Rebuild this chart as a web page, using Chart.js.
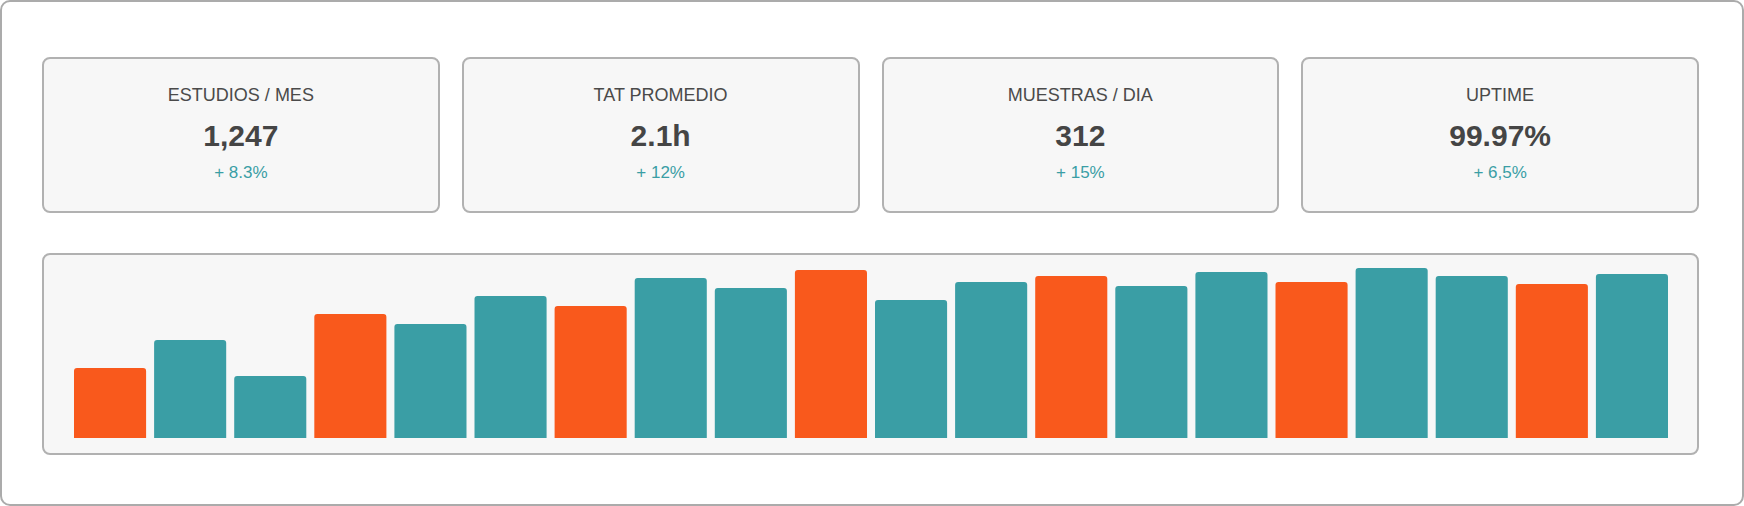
<!DOCTYPE html>
<html lang="es">
<head>
  <meta charset="UTF-8">
  <title>Panel de laboratorio</title>
  <style>
    html, body {
      margin: 0;
      padding: 0;
      background: #fff;
      font-family: "Liberation Sans", Arial, Helvetica, sans-serif;
    }
    .frame {
      position: absolute;
      left: 0;
      top: 0;
      width: 1744px;
      height: 506px;
      box-sizing: border-box;
      border: 2px solid #ababab;
      border-radius: 10px;
      background: #fff;
    }
    /* children sit inside the 2px frame border */
    .kpis {
      position: absolute;
      left: 40px;
      top: 55px;
      width: 1657px;
      height: 156px;
      display: flex;
      gap: 22px;
    }
    .kpi {
      flex: 1;
      box-sizing: border-box;
      border: 2px solid #b1b1b1;
      border-radius: 8px;
      background: #f7f7f7;
      text-align: center;
      padding-top: 26px;
    }
    .kpi h4 {
      margin: 0;
      font-size: 18px;
      line-height: 20px;
      font-weight: normal;
      color: #4a4a4a;
    }
    .kpi .value {
      margin: 14px 0 0 0;
      font-size: 30px;
      line-height: 34px;
      font-weight: bold;
      color: #454545;
    }
    .kpi .change {
      margin: 10px 0 0 0;
      font-size: 17px;
      line-height: 20px;
      color: #3a9ea5;
    }
    .panel {
      position: absolute;
      left: 40px;
      top: 251px;
      width: 1657px;
      height: 202px;
      box-sizing: border-box;
      border: 2px solid #b1b1b1;
      border-radius: 8px;
      background: #f7f7f7;
    }
    .chart-box {
      position: absolute;
      left: 26px;
      top: 3px;
      width: 1602px;
      height: 180px;
    }
  </style>
</head>
<body>
  <div class="frame">
    <div class="kpis" id="kpis"></div>
    <div class="panel">
      <div class="chart-box">
        <canvas id="studiesChart"></canvas>
      </div>
    </div>
  </div>

  <script src="https://cdn.jsdelivr.net/npm/chart.js"></script>
  <script>
    // KPI cards
    const kpiTitles = ['ESTUDIOS / MES', 'TAT PROMEDIO', 'MUESTRAS / DIA', 'UPTIME'];
    const kpiValues = ['1,247', '2.1h', '312', '99.97%'];
    const kpiChanges = ['+ 8.3%', '+ 12%', '+ 15%', '+ 6,5%'];

    // daily volume, highlighted days in orange
    const days = ['1', '2', '3', '4', '5', '6', '7', '8', '9', '10',
                  '11', '12', '13', '14', '15', '16', '17', '18', '19', '20'];
    const volume = [35, 49, 31, 62, 57, 71, 66, 80, 75, 84,
                    69, 78, 81, 76, 83, 78, 85, 81, 77, 82];
    const highlighted = [0, 3, 6, 9, 12, 15, 18];

    const teal = '#3a9ea5';
    const orange = '#f9591c';

    const kpiBox = document.getElementById('kpis');
    kpiTitles.forEach((title, i) => {
      const card = document.createElement('div');
      card.className = 'kpi';
      card.innerHTML = `
        <h4>${title}</h4>
        <p class="value">${kpiValues[i]}</p>
        <p class="change">${kpiChanges[i]}</p>
      `;
      kpiBox.appendChild(card);
    });

    const barColors = volume.map((v, i) => highlighted.includes(i) ? orange : teal);

    new Chart(document.getElementById('studiesChart'), {
      type: 'bar',
      data: {
        labels: days,
        datasets: [{
          data: volume,
          backgroundColor: barColors,
          borderRadius: 3,
          barPercentage: 0.9,
          categoryPercentage: 1
        }]
      },
      options: {
        responsive: true,
        maintainAspectRatio: false,
        animation: false,
        layout: { padding: 0 },
        scales: {
          x: { display: false },
          y: { display: false, min: 0, max: 90 }
        },
        plugins: {
          legend: { display: false },
          tooltip: { enabled: false }
        }
      }
    });
  </script>
</body>
</html>
